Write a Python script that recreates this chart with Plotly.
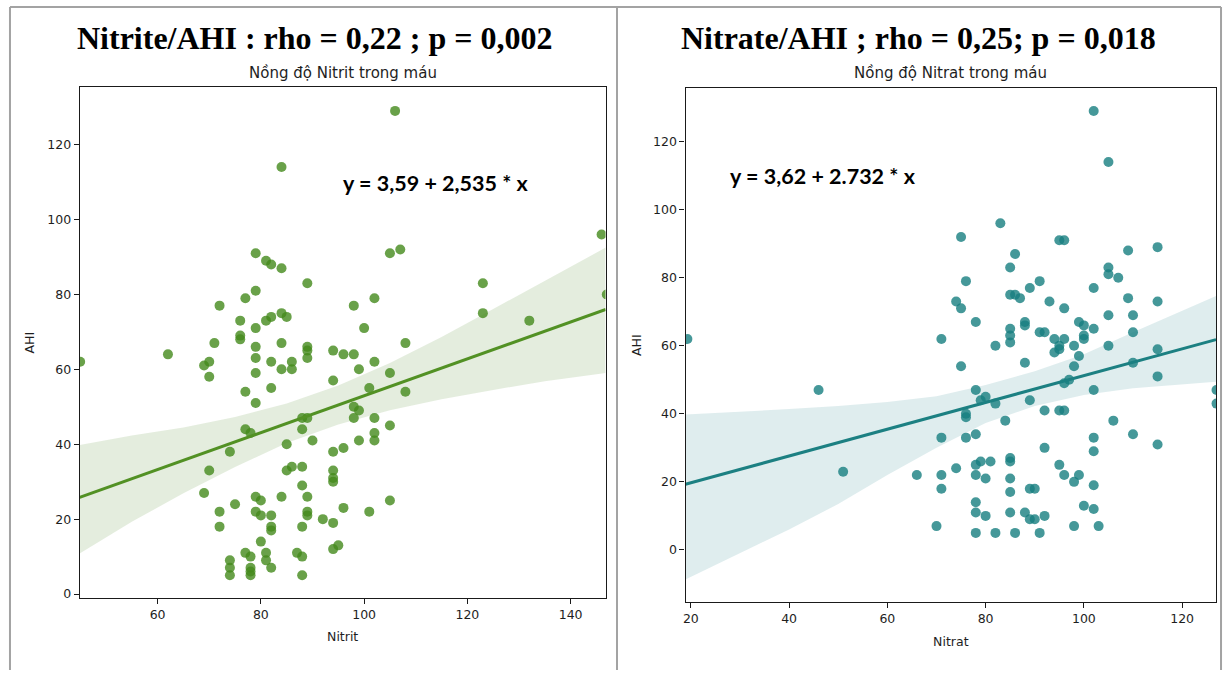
import plotly.graph_objects as go

# ---------------- data ----------------
nitrit = [106, 84, 146, 147, 79, 81, 82, 84, 105, 107, 89, 123, 79, 77, 72, 98, 102, 123, 132, 76,
          76, 76, 79, 81, 82, 84, 85, 100, 71, 79, 84, 89, 94, 108,
          89, 89, 96, 98, 62, 45, 69, 70, 79, 82, 84, 86, 86, 102, 70, 79, 99, 105, 94, 77, 82, 101,
          108, 79, 98, 99, 88, 89, 98, 102, 77, 78, 88, 105, 102, 102, 99, 90, 85, 74, 94, 96, 86,
          85, 88, 70, 94, 94, 94, 88, 69, 79, 80, 84, 89, 75, 105, 72, 79, 80, 82, 89, 89, 96, 101,
          92, 94, 72, 82, 82, 88, 80, 94, 95, 77, 78, 81, 81, 87, 88, 74, 74, 74, 78, 78, 78, 82, 88]
ahi_nitrit = [129, 114, 96, 80, 91, 89, 88, 87, 91, 92, 83, 83, 81, 79, 77, 77, 79, 75, 73, 73,
              69, 68, 71, 73, 74, 75, 74, 71, 67, 66, 67, 66, 65, 67,
              65, 63, 64, 64, 64, 62, 61, 62, 63, 62, 60, 62, 60, 62, 58, 59, 60, 59, 57, 54, 55, 55,
              54, 51, 50, 49, 47, 47, 47, 47, 44, 43, 44, 45, 43, 41, 41, 41, 40, 38, 38, 39, 34,
              33, 34, 33, 33, 31, 30, 29, 27, 26, 25, 26, 26, 24, 25, 22, 22, 21, 21, 22, 21, 23, 22,
              20, 19, 18, 18, 17, 18, 14, 12, 13, 11, 10, 11, 9, 11, 10, 9, 7, 5, 7, 5, 6, 7, 5]

nitrat = [102, 105, 83, 75, 95, 96, 109, 115, 86, 85, 105, 105, 107, 76, 91, 89, 102, 85, 86, 87,
          74, 75, 93, 109, 115, 96, 105, 110, 78, 88, 88, 99, 100, 102, 85, 85, 85, 91, 92, 94, 96,
          100, 100, 110, 71, 19.3, 115, 105, 82, 95, 98,
          94, 95, 99, 88, 75, 98, 110, 97, 96, 115, 46, 78, 102, 127, 127, 80, 79, 82, 89, 76, 76,
          92, 95, 96, 84, 106, 71, 76, 78, 102, 110, 115, 92, 102, 85, 85, 79, 81, 78, 95, 74, 51,
          66, 71, 78, 96, 99, 80, 85, 98, 102, 71, 89, 90, 85, 78, 100, 102, 78, 80, 85, 88, 89, 90,
          92, 70, 98, 103, 78, 82, 86, 91]
ahi_nitrat = [129, 114, 96, 92, 91, 91, 88, 89, 87, 83, 83, 81, 80, 79, 79, 77, 77, 75, 75, 74,
              73, 71, 73, 74, 73, 71, 69, 69, 67, 67, 66, 67, 66, 65, 65, 63, 61, 64, 64, 62, 62,
              63, 62, 64, 62, 62, 59, 60, 60, 60, 60,
              58, 59, 57, 55, 54, 54, 55, 50, 49, 51, 47, 47, 47, 47, 43, 45, 44, 43, 44, 40, 39,
              41, 41, 41, 38, 38, 33, 33, 34, 33, 34, 31, 30, 29, 27, 26, 26, 26, 25, 25, 24, 23,
              22, 22, 22, 22, 22, 21, 21, 20, 19, 18, 18, 18, 17, 14, 13, 12, 11, 10, 11, 11, 9, 9,
              10, 7, 7, 7, 5, 5, 5, 5]

# regression lines (end points)
nitrit_fit_x = [44.9, 146.8]
nitrit_fit_y = [25.8, 76.0]
nitrat_fit_x = [18.9, 126.9]
nitrat_fit_y = [19.3, 61.8]

# 95% confidence bands
nitrit_band_x = [44.9, 55, 65, 75, 85, 95, 105, 115, 125, 135, 146.8]
nitrit_band_lo = [10.8, 19.3, 26.9, 33.9, 40.3, 45.3, 49.1, 52.0, 54.5, 56.8, 59.0]
nitrit_band_hi = [39.8, 42.3, 44.5, 47.3, 50.9, 55.7, 61.7, 68.6, 76.1, 83.6, 92.5]

nitrat_band_x = [18.9, 30, 40, 50, 60, 70, 80, 90, 100, 110, 126.9]
nitrat_band_lo = [-8.7, -1.0, 6.0, 13.5, 22.0, 30.0, 37.3, 42.3, 45.5, 47.5, 49.4]
nitrat_band_hi = [39.8, 40.6, 41.4, 42.3, 43.5, 45.2, 48.5, 52.5, 57.5, 64.0, 74.6]

nitrit_ticks = [60, 80, 100, 120, 140]
nitrat_ticks = [20, 40, 60, 80, 100, 120]
ahi_ticks = [0, 20, 40, 60, 80, 100, 120]

title_left = "Nitrite/AHI : rho = 0,22 ; p = 0,002"
title_right = "Nitrate/AHI ; rho = 0,25; p = 0,018"
sub_left = "Nồng độ Nitrit trong máu"
sub_right = "Nồng độ Nitrat trong máu"
eq_left = "y = 3,59 + 2,535 * x"
eq_right = "y = 3,62 + 2.732 * x"

# ---------------- styling ----------------
W, H = 1229, 673
GREEN_PT = "rgb(68,138,28)"
GREEN_LN = "rgb(82,145,36)"
GREEN_BAND = "rgba(90,145,50,0.16)"
TEAL_PT = "rgb(22,126,128)"
TEAL_LN = "rgb(28,128,130)"
TEAL_BAND = "rgba(40,135,138,0.15)"
TXT = "#1e1e1e"
TICKFONT = dict(family="DejaVu Sans", size=12.5, color=TXT)
LABFONT = dict(family="DejaVu Sans", size=12.5, color=TXT)

fig = go.Figure()

# left panel
fig.add_trace(go.Scatter(x=nitrit_band_x, y=nitrit_band_hi, mode="lines", line=dict(width=0),
                         hoverinfo="skip", showlegend=False, xaxis="x", yaxis="y"))
fig.add_trace(go.Scatter(x=nitrit_band_x, y=nitrit_band_lo, mode="lines", line=dict(width=0),
                         fill="tonexty", fillcolor=GREEN_BAND, hoverinfo="skip",
                         showlegend=False, xaxis="x", yaxis="y"))
fig.add_trace(go.Scatter(x=nitrit, y=ahi_nitrit, mode="markers",
                         marker=dict(size=10, color=GREEN_PT, opacity=0.8, line=dict(width=0)),
                         showlegend=False, xaxis="x", yaxis="y"))
fig.add_trace(go.Scatter(x=nitrit_fit_x, y=nitrit_fit_y, mode="lines",
                         line=dict(color=GREEN_LN, width=3), showlegend=False,
                         xaxis="x", yaxis="y"))

# right panel
fig.add_trace(go.Scatter(x=nitrat_band_x, y=nitrat_band_hi, mode="lines", line=dict(width=0),
                         hoverinfo="skip", showlegend=False, xaxis="x2", yaxis="y2"))
fig.add_trace(go.Scatter(x=nitrat_band_x, y=nitrat_band_lo, mode="lines", line=dict(width=0),
                         fill="tonexty", fillcolor=TEAL_BAND, hoverinfo="skip",
                         showlegend=False, xaxis="x2", yaxis="y2"))
fig.add_trace(go.Scatter(x=nitrat, y=ahi_nitrat, mode="markers",
                         marker=dict(size=10, color=TEAL_PT, opacity=0.8, line=dict(width=0)),
                         showlegend=False, xaxis="x2", yaxis="y2"))
fig.add_trace(go.Scatter(x=nitrat_fit_x, y=nitrat_fit_y, mode="lines",
                         line=dict(color=TEAL_LN, width=3), showlegend=False,
                         xaxis="x2", yaxis="y2"))


def px_x(p):
    return p / W


def px_y(p):
    return 1 - p / H


axis_common = dict(showline=True, mirror=True, linecolor="#1a1a1a", linewidth=1.3,
                   ticks="outside", ticklen=5, tickwidth=1, tickcolor="#1a1a1a",
                   showgrid=False, zeroline=False, tickfont=TICKFONT)

fig.update_layout(
    width=W, height=H, margin=dict(l=0, r=0, t=0, b=0),
    paper_bgcolor="white", plot_bgcolor="white",
    xaxis=dict(domain=[px_x(77), px_x(604)], range=[44.93, 146.76], anchor="y",
               tickvals=nitrit_ticks,
               title=dict(text="Nitrit", font=LABFONT, standoff=10),
               **axis_common),
    yaxis=dict(domain=[px_y(601), px_y(87.3)], range=[-1.14, 135.4], anchor="x",
               tickvals=ahi_ticks,
               title=dict(text="AHI", font=LABFONT, standoff=9),
               **axis_common),
    xaxis2=dict(domain=[px_x(684.3), px_x(1216)], range=[18.94, 126.9], anchor="y2",
                tickvals=nitrat_ticks,
                title=dict(text="Nitrat", font=LABFONT, standoff=11),
                **axis_common),
    yaxis2=dict(domain=[px_y(605), px_y(88.3)], range=[-15.4, 135.8], anchor="x2",
                tickvals=ahi_ticks,
                title=dict(text="AHI", font=LABFONT, standoff=8),
                **axis_common),
)

ann = []
for txt, xc in ((title_left, 313), (title_right, 918)):
    ann.append(dict(text=txt, x=px_x(xc), y=px_y(38), xref="paper", yref="paper",
                    xanchor="center", yanchor="middle", showarrow=False,
                    font=dict(family="Liberation Serif", size=32, color="black", weight="bold")))
for txt, xc in ((sub_left, 340.5), (sub_right, 950.2)):
    ann.append(dict(text=txt, x=px_x(xc), y=px_y(73), xref="paper", yref="paper",
                    xanchor="center", yanchor="middle", showarrow=False,
                    font=dict(family="DejaVu Sans", size=15, color=TXT)))
for txt, xc, yc in ((eq_left, 434.5, 184), (eq_right, 822, 177)):
    ann.append(dict(text=txt, x=px_x(xc), y=px_y(yc), xref="paper", yref="paper",
                    xanchor="center", yanchor="middle", showarrow=False,
                    font=dict(family="Lato", size=21.5, color="black", weight="bold")))
fig.update_layout(annotations=ann)

# page frame (grey rules of the original document)
GREY = "#a3a3a3"
shapes = [
    dict(type="line", xref="paper", yref="paper", x0=px_x(7), x1=px_x(1221), y0=px_y(7), y1=px_y(7),
         line=dict(color=GREY, width=2)),
    dict(type="line", xref="paper", yref="paper", x0=px_x(7), x1=px_x(7), y0=px_y(7), y1=0,
         line=dict(color=GREY, width=2)),
    dict(type="line", xref="paper", yref="paper", x0=px_x(615.5), x1=px_x(615.5), y0=px_y(7), y1=0,
         line=dict(color=GREY, width=2)),
    dict(type="line", xref="paper", yref="paper", x0=px_x(1221), x1=px_x(1221), y0=px_y(7), y1=0,
         line=dict(color=GREY, width=2)),
]
fig.update_layout(shapes=shapes)

fig.write_html("out.html", config={"displayModeBar": False},
               post_script="document.body.style.margin='0';document.body.style.overflow='hidden';")
